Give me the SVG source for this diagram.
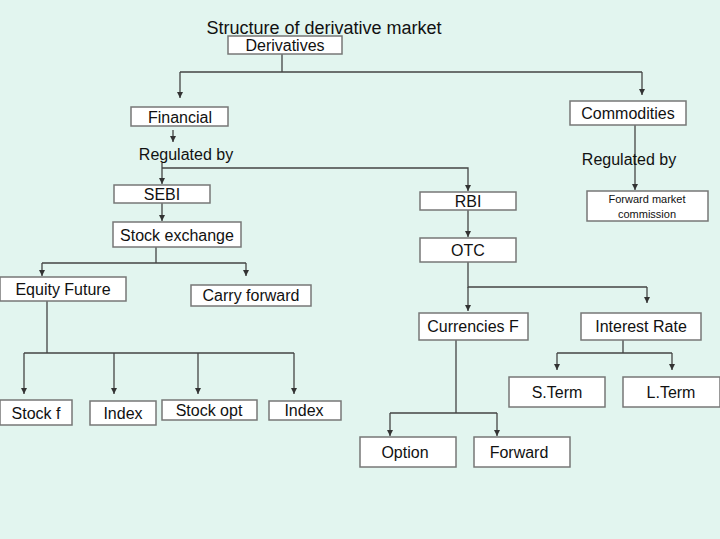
<svg xmlns="http://www.w3.org/2000/svg" width="720" height="539" viewBox="0 0 720 539">
<defs>
<marker id="a" markerWidth="6" markerHeight="6" refX="6" refY="3" orient="auto" markerUnits="userSpaceOnUse" viewBox="0 0 6 6"><path d="M0,0 L6,3 L0,6 Z" fill="#333"/></marker>
<style>
rect{fill:#fff;stroke:#777;stroke-width:1.5}
text{font-family:"Liberation Sans",Arial,sans-serif;font-size:16px;fill:#111;text-anchor:middle}
.c path{fill:none;stroke:#444;stroke-width:1.3}
</style>
</defs>
<rect x="0" y="0" width="720" height="539" style="fill:#e2f5ef;stroke:none"/>
<text x="324" y="34" style="font-size:18px">Structure of derivative market</text>
<g class="c">
<path d="M282,54 V72 M180,72 H642"/>
<path d="M180,72 V98" marker-end="url(#a)"/>
<path d="M642,72 V95" marker-end="url(#a)"/>
<path d="M173,130 V142" marker-end="url(#a)"/>
<path d="M162,163 V184" marker-end="url(#a)"/>
<path d="M162,168 H468 V191" marker-end="url(#a)"/>
<path d="M635,125 V190" marker-end="url(#a)"/>
<path d="M162,203 V221" marker-end="url(#a)"/>
<path d="M468,210 V237" marker-end="url(#a)"/>
<path d="M156,247 V263 M42,263 H246"/>
<path d="M42,263 V276" marker-end="url(#a)"/>
<path d="M246,263 V276" marker-end="url(#a)"/>
<path d="M47,301 V353 M24,353 H294"/>
<path d="M24,353 V394" marker-end="url(#a)"/>
<path d="M114,353 V394" marker-end="url(#a)"/>
<path d="M198,353 V394" marker-end="url(#a)"/>
<path d="M294,353 V394" marker-end="url(#a)"/>
<path d="M468,262 V287 H647"/>
<path d="M468,287 V311" marker-end="url(#a)"/>
<path d="M647,287 V303" marker-end="url(#a)"/>
<path d="M456,340 V413 M390,413 H497"/>
<path d="M390,413 V436" marker-end="url(#a)"/>
<path d="M497,413 V436" marker-end="url(#a)"/>
<path d="M623,340 V353 M557,353 H672"/>
<path d="M557,353 V370" marker-end="url(#a)"/>
<path d="M672,353 V370" marker-end="url(#a)"/>
</g>
<text x="186" y="160">Regulated by</text>
<text x="629" y="165">Regulated by</text>
<g id="derivatives"><rect x="228" y="36" width="114" height="18"/><text x="285" y="51">Derivatives</text></g>
<g id="financial"><rect x="131" y="107" width="97" height="19"/><text x="180" y="123">Financial</text></g>
<g id="commodities"><rect x="570" y="101" width="116" height="24"/><text x="628" y="119">Commodities</text></g>
<g id="sebi"><rect x="114" y="185" width="96" height="18"/><text x="162" y="200">SEBI</text></g>
<g id="rbi"><rect x="420" y="192" width="96" height="18"/><text x="468" y="207">RBI</text></g>
<g id="fmc"><rect x="587" y="191" width="121" height="30"/><text x="647" y="203" style="font-size:11px">Forward market</text><text x="647" y="218" style="font-size:11px">commission</text></g>
<g id="stockexchange"><rect x="113" y="222" width="128" height="25"/><text x="177" y="241">Stock exchange</text></g>
<g id="otc"><rect x="420" y="238" width="96" height="24"/><text x="468" y="256">OTC</text></g>
<g id="equityfuture"><rect x="0" y="277" width="126" height="24"/><text x="63" y="295">Equity Future</text></g>
<g id="carryforward"><rect x="191" y="285" width="120" height="21"/><text x="251" y="301">Carry forward</text></g>
<g id="currencies"><rect x="419" y="313" width="109" height="27"/><text x="473" y="332">Currencies F</text></g>
<g id="interestrate"><rect x="581" y="313" width="120" height="27"/><text x="641" y="332">Interest Rate</text></g>
<g id="sterm"><rect x="509" y="377" width="96" height="30"/><text x="557" y="398">S.Term</text></g>
<g id="lterm"><rect x="623" y="377" width="97" height="30"/><text x="671" y="398">L.Term</text></g>
<g id="stockf"><rect x="0" y="400" width="72" height="25"/><text x="36" y="419">Stock f</text></g>
<g id="index1"><rect x="90" y="401" width="66" height="24"/><text x="123" y="419">Index</text></g>
<g id="stockopt"><rect x="162" y="400" width="95" height="20"/><text x="209" y="416">Stock opt</text></g>
<g id="index2"><rect x="269" y="401" width="72" height="19"/><text x="304" y="416">Index</text></g>
<g id="option"><rect x="360" y="437" width="96" height="30"/><text x="405" y="458">Option</text></g>
<g id="forward"><rect x="474" y="437" width="96" height="30"/><text x="519" y="458">Forward</text></g>
</svg>
